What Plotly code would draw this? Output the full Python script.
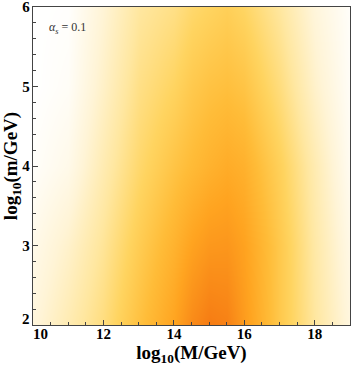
import plotly.graph_objs as go

log_M = [10, 11, 12, 13, 14, 14.5, 15, 15.5, 16, 17, 18, 19]
log_m = [2, 3, 4, 5, 6]

# relative intensity (0 = white, 1 = deep orange), one row per log_m value
density = [
    [0.13, 0.25, 0.38, 0.57, 0.75, 0.90, 0.98, 0.95, 0.80, 0.52, 0.30, 0.12],
    [0.08, 0.18, 0.32, 0.50, 0.66, 0.76, 0.82, 0.83, 0.76, 0.52, 0.28, 0.09],
    [0.02, 0.08, 0.25, 0.42, 0.55, 0.61, 0.66, 0.70, 0.67, 0.47, 0.25, 0.05],
    [0.00, 0.03, 0.19, 0.36, 0.45, 0.52, 0.56, 0.58, 0.55, 0.38, 0.18, 0.03],
    [0.00, 0.01, 0.15, 0.30, 0.36, 0.42, 0.45, 0.48, 0.44, 0.30, 0.13, 0.02],
]

x_ticks = [10, 12, 14, 16, 18]
y_ticks = [2, 3, 4, 5, 6]

colorscale = [
    [0.0, '#FFFFFF'],
    [0.15, '#FFF4D6'],
    [0.3, '#FFE7A0'],
    [0.45, '#FFD460'],
    [0.6, '#FFBC38'],
    [0.75, '#FFA420'],
    [0.9, '#F98A18'],
    [1.0, '#F57812'],
]

serif = 'Liberation Serif, Times New Roman, serif'
tick_font = dict(family=serif, size=15, color='black')

fig = go.Figure(go.Heatmap(
    x=log_M, y=log_m, z=density,
    zmin=0, zmax=1, zsmooth='best',
    colorscale=colorscale, showscale=False, hoverinfo='skip'))

axis_common = dict(
    showgrid=False, zeroline=False, showline=True, mirror=True,
    linecolor='#444', linewidth=1.3,
    ticks='inside', ticklen=5, tickcolor='#444',
    ticklabeloverflow='allow', automargin=False,
    tickfont=tick_font,
)

# the corner labels (first x tick, first y tick) are nudged apart like the original,
# so they are drawn as annotations below instead of regular tick labels
fig.update_xaxes(
    range=[10, 19], tickvals=x_ticks,
    ticktext=[''] + [f'<b>{t}</b>' for t in x_ticks[1:]], ticklabelstandoff=-5,
    minor=dict(dtick=0.5, ticks='inside', ticklen=3, tickcolor='#444'),
    title=dict(text='<b>log<sub>10</sub>(M/GeV)</b>', standoff=0,
               font=dict(family=serif, size=19, color='black')),
    **axis_common)
fig.update_yaxes(
    range=[2, 6], tickvals=y_ticks,
    ticktext=[''] + [f'<b>{t}</b>' for t in y_ticks[1:]], ticklabelstandoff=-1,
    minor=dict(dtick=0.2, ticks='inside', ticklen=3, tickcolor='#444'),
    title=dict(text='<b>log<sub>10</sub>(m/GeV)</b>', standoff=0,
               font=dict(family=serif, size=19, color='black')),
    **axis_common)

fig.add_annotation(
    x=x_ticks[0], y=0, xref='x', yref='paper', showarrow=False,
    xanchor='left', yanchor='top', xshift=-2, yshift=1,
    text=f'<b>{x_ticks[0]}</b>', font=tick_font)
fig.add_annotation(
    x=0, y=y_ticks[0], xref='paper', yref='y', showarrow=False,
    xanchor='right', yanchor='bottom', xshift=-1, yshift=-4,
    text=f'<b>{y_ticks[0]}</b>', font=tick_font)

fig.add_annotation(
    x=0.045, y=0.935, xref='paper', yref='paper', showarrow=False,
    xanchor='left', yanchor='middle',
    text='<i>α</i><sub><i>s</i></sub> = 0.1',
    font=dict(family=serif, size=12, color='#333'))

fig.update_layout(
    width=351, height=366,
    margin=dict(l=33, r=1, t=7, b=41),
    plot_bgcolor='white', paper_bgcolor='white',
    font=dict(family=serif),
)

fig.write_html("out.html", config={'displayModeBar': False},
               post_script="document.body.style.margin='0px';")
